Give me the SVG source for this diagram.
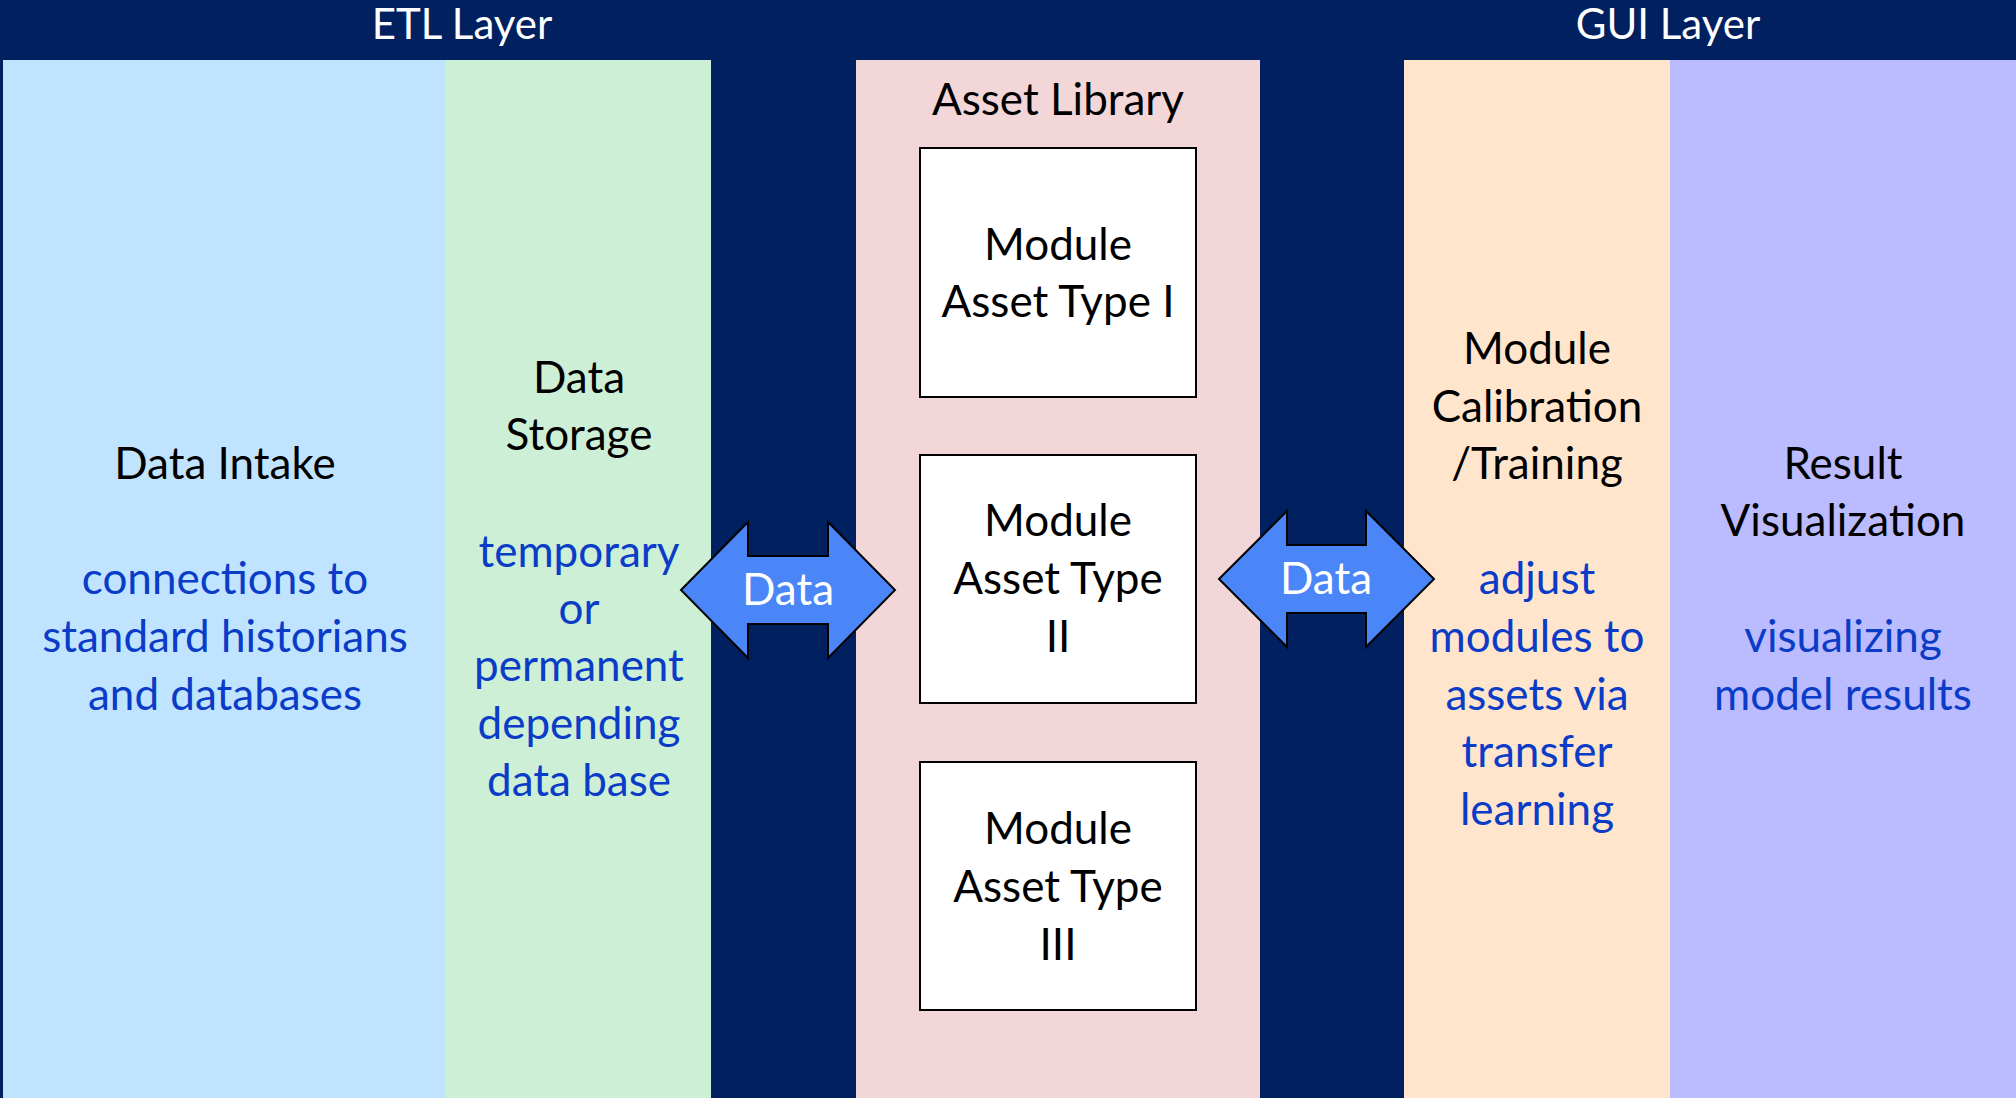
<svg xmlns="http://www.w3.org/2000/svg" width="2016" height="1098" viewBox="0 0 2016 1098">
  <style>
    text { font-family: Lato, "Open Sans", "Liberation Sans", sans-serif; font-size: 44px; text-anchor: middle; }
    .title { fill: #000000; }
    .desc { fill: #0a3cc8; }
    .layer { fill: #ffffff; font-size: 42px; }
    .module { fill: #ffffff; stroke: #000000; stroke-width: 2; }
    .arrow { fill: #4a86f8; stroke: #000000; stroke-width: 2; stroke-linejoin: miter; }
    .arrow-label { fill: #ffffff; }
  </style>

  <!-- background -->
  <rect x="0" y="0" width="2016" height="1098" fill="#002060"/>
  <text class="layer" x="462" y="39">ETL Layer</text>
  <text class="layer" x="1668" y="39">GUI Layer</text>

  <!-- ETL layer columns -->
  <g id="data-intake">
    <rect x="3" y="60" width="443" height="1038" fill="#c0e4ff"/>
    <text class="title" x="225" y="479">Data Intake</text>
    <text class="desc" x="225" y="594">connections to</text>
    <text class="desc" x="225" y="652">standard historians</text>
    <text class="desc" x="225" y="710">and databases</text>
  </g>

  <g id="data-storage">
    <rect x="446" y="60" width="265" height="1038" fill="#ccefd6"/>
    <text class="title" x="579" y="393">Data</text>
    <text class="title" x="579" y="450">Storage</text>
    <text class="desc" x="579" y="567">temporary</text>
    <text class="desc" x="579" y="624">or</text>
    <text class="desc" x="579" y="681">permanent</text>
    <text class="desc" x="579" y="739">depending</text>
    <text class="desc" x="579" y="796">data base</text>
  </g>

  <!-- asset library -->
  <g id="asset-library">
    <rect x="856" y="60" width="404" height="1038" fill="#f3d7d8"/>
    <text class="title" x="1058" y="115">Asset Library</text>
  </g>

  <g id="module-type-1">
    <rect class="module" x="920" y="148" width="276" height="249"/>
    <text class="title" x="1058" y="260">Module</text>
    <text class="title" x="1058" y="317">Asset Type I</text>
  </g>

  <g id="module-type-2">
    <rect class="module" x="920" y="455" width="276" height="248"/>
    <text class="title" x="1058" y="536">Module</text>
    <text class="title" x="1058" y="594">Asset Type</text>
    <text class="title" x="1058" y="652">II</text>
  </g>

  <g id="module-type-3">
    <rect class="module" x="920" y="762" width="276" height="248"/>
    <text class="title" x="1058" y="844">Module</text>
    <text class="title" x="1058" y="902">Asset Type</text>
    <text class="title" x="1058" y="960">III</text>
  </g>

  <!-- GUI layer columns -->
  <g id="module-calibration">
    <rect x="1404" y="60" width="266" height="1038" fill="#ffe5cb"/>
    <text class="title" x="1537" y="364">Module</text>
    <text class="title" x="1537" y="422">Calibration</text>
    <text class="title" x="1537" y="479">/Training</text>
    <text class="desc" x="1537" y="594">adjust</text>
    <text class="desc" x="1537" y="652">modules to</text>
    <text class="desc" x="1537" y="710">assets via</text>
    <text class="desc" x="1537" y="767">transfer</text>
    <text class="desc" x="1537" y="825">learning</text>
  </g>

  <g id="result-visualization">
    <rect x="1670" y="60" width="346" height="1038" fill="#bbbbff"/>
    <text class="title" x="1843" y="479">Result</text>
    <text class="title" x="1843" y="536">Visualization</text>
    <text class="desc" x="1843" y="652">visualizing</text>
    <text class="desc" x="1843" y="710">model results</text>
  </g>

  <!-- data exchange arrows -->
  <g id="connectors">
    <g id="data-arrow-etl">
      <polygon class="arrow" points="681,590 748,522 748,556 828,556 828,522 895,590 828,658 828,624 748,624 748,658"/>
      <text class="arrow-label" x="788" y="605">Data</text>
    </g>
    <g id="data-arrow-gui">
      <polygon class="arrow" points="1219,579 1287,511 1287,545 1366,545 1366,511 1434,579 1366,647 1366,613 1287,613 1287,647"/>
      <text class="arrow-label" x="1326" y="594">Data</text>
    </g>
  </g>
</svg>
